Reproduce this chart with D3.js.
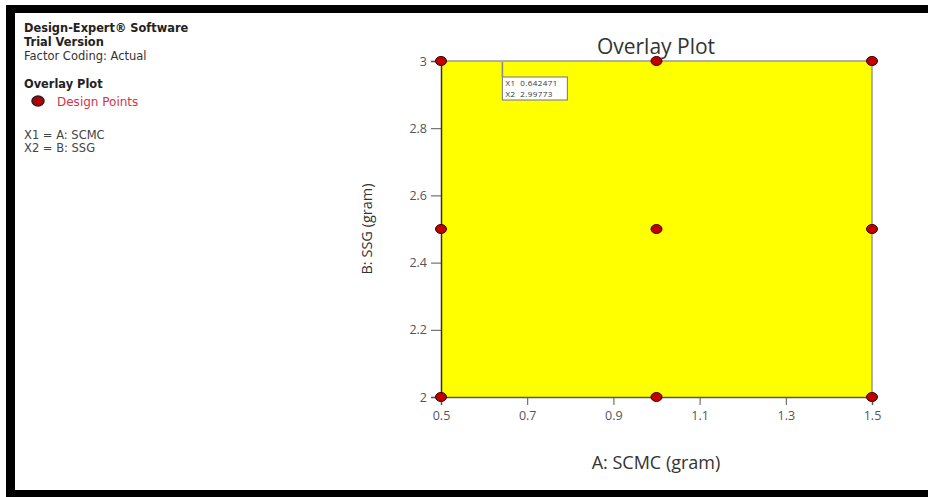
<!DOCTYPE html>
<meta charset="utf-8">
<title>Overlay Plot</title>
<script src="https://d3js.org/d3.v7.min.js"></script>
<style>
  body { margin: 0; background: #fff; }
  svg { display: block; font-family: "Open Sans", sans-serif; }
</style>
<body>
<div id="chart"></div>
<script>
// design points (A: SCMC, B: SSG)
var pointsA = [0.5, 0.5, 0.5, 1.0, 1.0, 1.0, 1.5, 1.5, 1.5];
var pointsB = [2.0, 2.5, 3.0, 2.0, 2.5, 3.0, 2.0, 2.5, 3.0];
var xTicks = [0.5, 0.7, 0.9, 1.1, 1.3, 1.5];
var yTicks = [2, 2.2, 2.4, 2.6, 2.8, 3];
var flagX1 = 0.642471, flagX2 = 2.99773;
var infoLines = ["X1 = A: SCMC", "X2 = B: SSG"];

var W = 928, H = 497;
var svg = d3.select("#chart").append("svg")
    .attr("width", W).attr("height", H);

// black frame (top, left, bottom)
svg.append("rect").attr("x", 6).attr("y", 5).attr("width", W - 6).attr("height", 8).attr("fill", "#000");
svg.append("rect").attr("x", 6).attr("y", 5).attr("width", 9).attr("height", H - 5).attr("fill", "#000");
svg.append("rect").attr("x", 6).attr("y", 490).attr("width", W - 6).attr("height", 7).attr("fill", "#000");

// left info panel
var info = svg.append("g").attr("font-size", 12).attr("fill", "#222")
    .attr("font-family", "DejaVu Sans, sans-serif");
info.append("text").attr("x", 24).attr("y", 32).attr("font-weight", "bold").attr("font-size", 11.4).text("Design-Expert® Software");
info.append("text").attr("x", 24).attr("y", 46).attr("font-weight", "bold").attr("font-size", 11.4).text("Trial Version");
info.append("text").attr("x", 24).attr("y", 60).attr("fill", "#333").attr("font-size", 11.5).text("Factor Coding: Actual");
info.append("text").attr("x", 24).attr("y", 88).attr("font-weight", "bold").attr("font-size", 11.4).text("Overlay Plot");
info.append("ellipse").attr("cx", 38).attr("cy", 101).attr("rx", 6).attr("ry", 5)
    .attr("fill", "#b00000").attr("stroke", "#222").attr("stroke-width", 1.5);
info.append("text").attr("x", 57).attr("y", 106).attr("fill", "#d0354a").text("Design Points");
info.selectAll(".inf").data(infoLines).enter().append("text")
    .attr("x", 24).attr("y", function (d, i) { return 139 + i * 13; })
    .attr("font-size", 11.5).attr("fill", "#444").text(function (d) { return d; });

// scales
var x = d3.scaleLinear().domain([0.5, 1.5]).range([441, 872]);
var y = d3.scaleLinear().domain([2, 3]).range([397, 61]);

// feasible region
svg.append("rect")
    .attr("x", x(0.5)).attr("y", y(3))
    .attr("width", x(1.5) - x(0.5)).attr("height", y(2) - y(3))
    .attr("fill", "#ffff00");
// plot borders
svg.append("line").attr("x1", x(0.5)).attr("x2", x(1.5)).attr("y1", y(3)).attr("y2", y(3))
    .attr("stroke", "#999").attr("stroke-width", 1.5);
svg.append("line").attr("x1", x(1.5)).attr("x2", x(1.5)).attr("y1", y(3)).attr("y2", y(2))
    .attr("stroke", "#999").attr("stroke-width", 1.5);

// axes
var xAxis = svg.append("g").attr("transform", "translate(0," + y(2) + ")")
    .call(d3.axisBottom(x).tickValues(xTicks).tickSize(8).tickPadding(6)
        .tickFormat(function (d) { return d3.format(".1f")(d); }));
var yAxis = svg.append("g").attr("transform", "translate(" + x(0.5) + ",0)")
    .call(d3.axisLeft(y).tickValues(yTicks).tickSize(10).tickPadding(4)
        .tickFormat(function (d) { return d3.format("")(d); }));
[xAxis, yAxis].forEach(function (a) {
    a.select(".domain").attr("stroke", "#333").attr("stroke-width", 1.5);
    a.selectAll(".tick line").attr("stroke", "#555");
    a.selectAll(".tick text").attr("fill", "#555").attr("font-size", 12.5)
        .attr("font-family", "Open Sans, sans-serif");
});
xAxis.select(".domain").attr("stroke", "#555");

// flag
var fx = x(flagX1), fy = y(flagX2);
svg.append("line").attr("x1", fx).attr("x2", fx).attr("y1", fy).attr("y2", 77)
    .attr("stroke", "#888").attr("stroke-width", 1.5);
svg.append("rect").attr("x", fx).attr("y", 77).attr("width", 65).attr("height", 23)
    .attr("fill", "#fff").attr("stroke", "#888").attr("stroke-width", 1.2);
svg.append("text").attr("x", fx + 3).attr("y", 86).attr("font-size", 8).attr("fill", "#333")
    .attr("letter-spacing", 0.4).attr("xml:space", "preserve").text("X1  " + flagX1);
svg.append("text").attr("x", fx + 3).attr("y", 97).attr("font-size", 8).attr("fill", "#333")
    .attr("letter-spacing", 0.4).attr("xml:space", "preserve").text("X2  " + flagX2);

// design points
svg.append("g").selectAll("ellipse").data(pointsA).enter().append("ellipse")
    .attr("cx", function (d) { return x(d); })
    .attr("cy", function (d, i) { return y(pointsB[i]); })
    .attr("rx", 5.5).attr("ry", 4.5)
    .attr("fill", "#c00000").attr("stroke", "#3a0000").attr("stroke-width", 1);

// titles
svg.append("text").attr("x", 656).attr("y", 54).attr("text-anchor", "middle")
    .attr("font-size", 21).attr("fill", "#333").text("Overlay Plot");
svg.append("text").attr("x", 656).attr("y", 469).attr("text-anchor", "middle")
    .attr("font-size", 18).attr("fill", "#333").text("A: SCMC (gram)");
svg.append("text").attr("transform", "translate(372,229) rotate(-90)").attr("text-anchor", "middle")
    .attr("font-size", 14.5).attr("fill", "#333").text("B: SSG (gram)");
</script>
</body>
